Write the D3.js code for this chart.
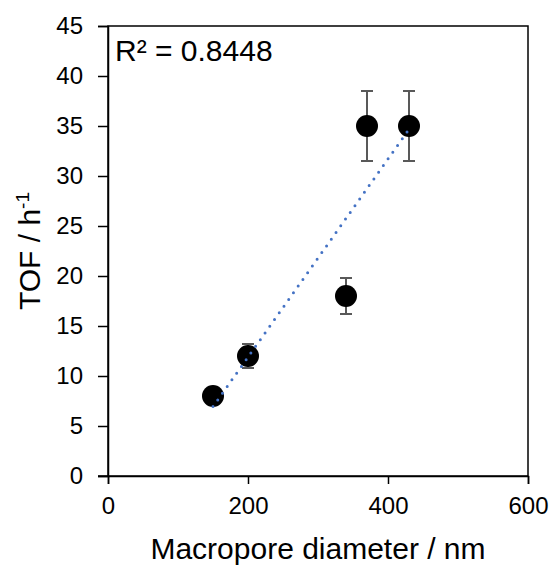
<!DOCTYPE html>
<html>
<head>
<meta charset="utf-8">
<script src="https://cdn.jsdelivr.net/npm/d3@7"></script>
<style>
  body { margin: 0; background: #fff; }
  text { font-family: "Liberation Sans", Arial, sans-serif; fill: #000; }
</style>
</head>
<body>
<div id="chart"></div>
<script>
// data
const diameters = [150, 200, 340, 370, 430];
const tofValues = [8, 12, 18, 35, 35];
const tofErrors = [0, 1.2, 1.8, 3.5, 3.5];
const xTicks = [0, 200, 400, 600];
const yTicks = [0, 5, 10, 15, 20, 25, 30, 35, 40, 45];

const W = 554, H = 569;
const margin = {top: 26, right: 26, bottom: 93, left: 108};
const width = W - margin.left - margin.right;
const height = H - margin.top - margin.bottom;

const svg = d3.select("#chart")
              .append("svg")
              .attr("width", W)
              .attr("height", H);

const g = svg.append("g")
             .attr("transform", "translate(" + margin.left + "," + margin.top + ")");

const x = d3.scaleLinear().domain([0, 600]).range([0, width]);
const y = d3.scaleLinear().domain([0, 45]).range([height, 0]);

// frame
g.append("rect")
 .attr("x", 0).attr("y", 0)
 .attr("width", width).attr("height", height)
 .attr("fill", "none")
 .attr("stroke", "#000")
 .attr("stroke-width", 1.5);

// axes
const xAxis = g.append("g")
               .attr("transform", "translate(0," + height + ")")
               .call(d3.axisBottom(x).tickValues(xTicks).tickSize(8).tickPadding(13));
const yAxis = g.append("g")
               .call(d3.axisLeft(y).tickValues(yTicks).tickSize(10).tickPadding(15));

[xAxis, yAxis].forEach(a => {
  a.select(".domain").attr("stroke", "#000").attr("stroke-width", 1.5);
  a.selectAll(".tick line").attr("stroke", "#000").attr("stroke-width", 1.5);
  a.selectAll(".tick text")
   .style("font-family", '"Liberation Sans", Arial, sans-serif')
   .style("font-size", "24px")
   .attr("fill", "#000");
});
// x axis line reaches out to the y tick ends
g.append("line")
 .attr("x1", -10).attr("x2", 0)
 .attr("y1", height).attr("y2", height)
 .attr("stroke", "#000").attr("stroke-width", 1.5);

const points = diameters.map((d, i) => ({x: d, y: tofValues[i], e: tofErrors[i]}));

// error bars
const eb = g.append("g").attr("stroke", "#595959").attr("stroke-width", 2);
points.filter(p => p.e > 0).forEach(p => {
  eb.append("line")
    .attr("x1", x(p.x)).attr("x2", x(p.x))
    .attr("y1", y(p.y - p.e)).attr("y2", y(p.y + p.e));
  [p.y - p.e, p.y + p.e].forEach(v => {
    eb.append("line")
      .attr("x1", x(p.x) - 6).attr("x2", x(p.x) + 6)
      .attr("y1", y(v)).attr("y2", y(v));
  });
});

// markers
g.selectAll("circle.pt")
 .data(points)
 .enter()
 .append("circle")
 .attr("class", "pt")
 .attr("cx", d => x(d.x))
 .attr("cy", d => y(d.y))
 .attr("r", 11)
 .attr("fill", "#000");

// linear trendline (least squares)
const mx = d3.mean(diameters), my = d3.mean(tofValues);
const sxy = d3.sum(points, p => (p.x - mx) * (p.y - my));
const sxx = d3.sum(points, p => (p.x - mx) ** 2);
const syy = d3.sum(points, p => (p.y - my) ** 2);
const slope = sxy / sxx;
const intercept = my - slope * mx;
const r2 = (sxy * sxy) / (sxx * syy);
const xr = d3.extent(diameters);

g.append("line")
 .attr("x1", x(xr[0])).attr("y1", y(slope * xr[0] + intercept))
 .attr("x2", x(xr[1])).attr("y2", y(slope * xr[1] + intercept))
 .attr("stroke", "#4472C4")
 .attr("stroke-width", 3)
 .attr("stroke-linecap", "round")
 .attr("stroke-dasharray", "0 8.2");

// R² label
g.append("text")
 .attr("x", 7)
 .attr("y", 35)
 .style("font-size", "30px")
 .text("R² = " + r2.toFixed(4));

// axis titles
svg.append("text")
   .attr("x", margin.left + width / 2)
   .attr("y", 559)
   .attr("text-anchor", "middle")
   .style("font-size", "30px")
   .text("Macropore diameter / nm");

const yt = svg.append("text")
              .attr("transform", "translate(40," + (margin.top + height / 2) + ") rotate(-90)")
              .attr("text-anchor", "middle")
              .style("font-size", "30px");
yt.append("tspan").text("TOF / h");
yt.append("tspan").attr("dy", -11).style("font-size", "19px").text("-1");
</script>
</body>
</html>
